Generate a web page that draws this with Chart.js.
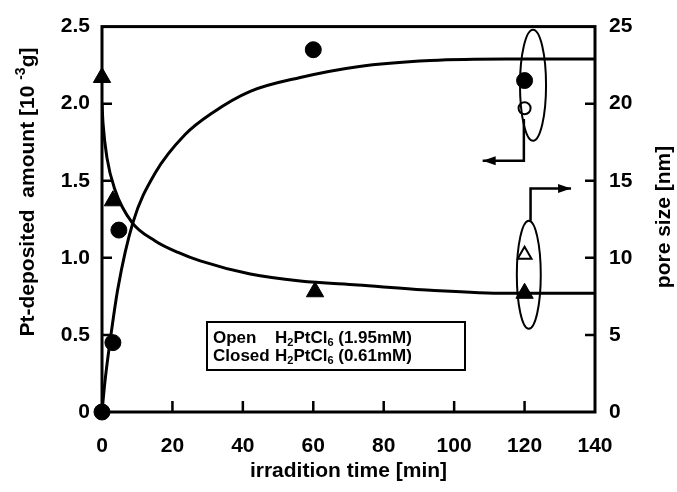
<!DOCTYPE html>
<html>
<head>
<meta charset="utf-8">
<script src="https://cdn.jsdelivr.net/npm/chart.js@4.4.0/dist/chart.umd.min.js"></script>
<style>
  html, body { margin: 0; padding: 0; background: #fff; }
  #wrap { width: 677px; height: 492px; }
</style>
</head>
<body>
<div id="wrap"><canvas id="mainchart"></canvas></div>
<script>
const closed_pt_time = [0, 3.1, 4.8, 60, 120];
const closed_pt_amount = [0, 0.45, 1.18, 2.35, 2.15];
const open_pt_time = [120];
const open_pt_amount = [1.97];

const closed_pore_time = [0, 3.1, 60.5, 120];
const closed_pore_size = [21.7, 13.7, 7.8, 7.7];
const open_pore_time = [120];
const open_pore_size = [10.2];

// fitted curves
const amount_fit_time = [0, 0.85, 2.3, 4.5, 8.8, 15.1, 23.6, 31.3, 42.1, 56.3, 72.6, 93.3, 115, 140];
const amount_fit_value = [0, 0.2, 0.46, 0.8, 1.23, 1.55, 1.8, 1.94, 2.08, 2.17, 2.24, 2.28, 2.29, 2.29];
const pore_fit_time = [0, 0.3, 1.4, 3.7, 8.5, 15.1, 21.6, 27.9, 42.1, 56.3, 72.6, 93.3, 115, 140];
const pore_fit_value = [20, 18.7, 16.5, 14.4, 12.3, 11.1, 10.35, 9.8, 8.95, 8.5, 8.24, 7.9, 7.7, 7.7];

const x_ticks = [0, 20, 40, 60, 80, 100, 120, 140];
const amount_ticks = [0, 0.5, 1.0, 1.5, 2.0, 2.5];
const pore_ticks = [0, 5, 10, 15, 20, 25];

const FONT = 'Liberation Sans, Arial, sans-serif';

function pts(xs, ys) {
  return xs.map((x, i) => ({ x: x, y: ys[i] }));
}

/* frame, inner ticks, axis titles, legend box and the ellipse/arrow notes */
const decor = {
  id: 'decor',
  afterDraw(chart) {
    const c = chart.ctx;
    const a = chart.chartArea;
    const sx = chart.scales.x, sy = chart.scales.y, sy2 = chart.scales.y2;
    c.save();
    c.strokeStyle = '#000';
    c.fillStyle = '#000';

    // box
    c.lineWidth = 3;
    c.strokeRect(a.left, a.top, a.right - a.left, a.bottom - a.top);

    // ticks pointing in
    c.lineWidth = 2.5;
    c.beginPath();
    x_ticks.slice(1, -1).forEach(v => {
      const px = sx.getPixelForValue(v);
      c.moveTo(px, a.bottom); c.lineTo(px, a.bottom - 11);
    });
    amount_ticks.slice(1, -1).forEach(v => {
      const py = sy.getPixelForValue(v);
      c.moveTo(a.left, py); c.lineTo(a.left + 10, py);
    });
    pore_ticks.slice(1, -1).forEach(v => {
      const py = sy2.getPixelForValue(v);
      c.moveTo(a.right, py); c.lineTo(a.right - 10, py);
    });
    c.stroke();

    // axis titles
    c.textBaseline = 'middle';
    c.textAlign = 'center';
    c.font = 'bold 21px ' + FONT;
    c.fillText('irradition time [min]', (a.left + a.right) / 2, 471);

    c.save();
    c.translate(664, 217);
    c.rotate(-Math.PI / 2);
    c.fillText('pore size [nm]', 0, 0);
    c.restore();

    c.save();
    c.translate(28, 192);
    c.rotate(-Math.PI / 2);
    const big = 'bold 21px ' + FONT, small = 'bold 14px ' + FONT;
    const p1 = 'Pt-deposited  amount [10 ', p2 = '-3', p3 = 'g]';
    c.font = big; const w1 = c.measureText(p1).width, w3 = c.measureText(p3).width;
    c.font = small; const w2 = c.measureText(p2).width;
    let x0 = -(w1 + w2 + w3) / 2;
    c.textAlign = 'left';
    c.font = big; c.fillText(p1, x0, 0);
    c.font = small; c.fillText(p2, x0 + w1, -7);
    c.font = big; c.fillText(p3, x0 + w1 + w2, 0);
    c.restore();

    // legend box
    c.lineWidth = 2;
    c.strokeRect(207, 322, 258, 48);
    c.textAlign = 'left';
    const rows = [['Open', '(1.95mM)', 338], ['Closed', '(0.61mM)', 356]];
    rows.forEach(r => {
      const y = r[2];
      c.font = 'bold 17px ' + FONT;
      c.fillText(r[0], 213, y);
      let x = 275;
      const parts = [['H', 0], ['2', 1], ['PtCl', 0], ['6', 1], [' ' + r[1], 0]];
      parts.forEach(p => {
        c.font = (p[1] ? 'bold 11px ' : 'bold 17px ') + FONT;
        c.fillText(p[0], x, y + (p[1] ? 5 : 0));
        x += c.measureText(p[0]).width;
      });
    });

    // ellipses round the 120 min points
    c.lineWidth = 2;
    c.beginPath();
    c.ellipse(sx.getPixelForValue(122.4), sy.getPixelForValue(2.12),
      Math.abs(sx.getPixelForValue(3.7) - sx.getPixelForValue(0)),
      Math.abs(sy.getPixelForValue(0.36) - sy.getPixelForValue(0)), 0, 0, Math.PI * 2);
    c.stroke();
    c.beginPath();
    c.ellipse(sx.getPixelForValue(121.2), sy2.getPixelForValue(8.9),
      Math.abs(sx.getPixelForValue(3.4) - sx.getPixelForValue(0)),
      Math.abs(sy2.getPixelForValue(3.5) - sy2.getPixelForValue(0)), 0, 0, Math.PI * 2);
    c.stroke();

    // arrows pointing at the axes
    function arrow(scaleY, path) {
      const p = path.map(q => [sx.getPixelForValue(q[0]), scaleY.getPixelForValue(q[1])]);
      c.lineWidth = 2.5;
      c.beginPath();
      c.moveTo(p[0][0], p[0][1]);
      for (let i = 1; i < p.length; i++) c.lineTo(p[i][0], p[i][1]);
      c.stroke();
      const e = p[p.length - 1], s = p[p.length - 2];
      const ang = Math.atan2(e[1] - s[1], e[0] - s[0]);
      c.beginPath();
      c.moveTo(e[0], e[1]);
      c.lineTo(e[0] - 13 * Math.cos(ang) + 4.5 * Math.sin(ang), e[1] - 13 * Math.sin(ang) - 4.5 * Math.cos(ang));
      c.lineTo(e[0] - 13 * Math.cos(ang) - 4.5 * Math.sin(ang), e[1] - 13 * Math.sin(ang) + 4.5 * Math.cos(ang));
      c.closePath();
      c.fill();
    }
    arrow(sy, [[119.8, 1.9], [119.8, 1.63], [108.1, 1.63]]);
    arrow(sy2, [[121.7, 12.4], [121.7, 14.5], [133.2, 14.5]]);

    c.restore();
  }
};

const tick_font = { family: FONT, size: 21, weight: 'bold' };

const config = {
  type: 'scatter',
  data: {
    datasets: [
      {
        data: pts(amount_fit_time, amount_fit_value),
        yAxisID: 'y', showLine: true, borderColor: '#000', borderWidth: 3,
        pointRadius: 0, cubicInterpolationMode: 'monotone'
      },
      {
        data: pts(pore_fit_time, pore_fit_value),
        yAxisID: 'y2', showLine: true, borderColor: '#000', borderWidth: 3,
        pointRadius: 0, cubicInterpolationMode: 'monotone'
      },
      {
        data: pts(closed_pt_time, closed_pt_amount),
        yAxisID: 'y', pointStyle: 'circle', pointRadius: 8,
        backgroundColor: '#000', borderColor: '#000', clip: false
      },
      {
        data: pts(open_pt_time, open_pt_amount),
        yAxisID: 'y', pointStyle: 'circle', pointRadius: 6, borderWidth: 2,
        backgroundColor: '#fff', borderColor: '#000', clip: false
      },
      {
        data: pts(closed_pore_time, closed_pore_size),
        yAxisID: 'y2', pointStyle: 'triangle', pointRadius: 10,
        backgroundColor: '#000', borderColor: '#000', clip: false
      },
      {
        data: pts(open_pore_time, open_pore_size),
        yAxisID: 'y2', pointStyle: 'triangle', pointRadius: 8, borderWidth: 2,
        backgroundColor: '#fff', borderColor: '#000', clip: false
      }
    ]
  },
  options: {
    responsive: true,
    maintainAspectRatio: false,
    animation: false,
    layout: { padding: { top: 21, left: 0, right: 0, bottom: 0 } },
    plugins: { legend: false, tooltip: { enabled: false } },
    scales: {
      x: {
        type: 'linear', min: 0, max: 140,
        afterBuildTicks: s => { s.ticks = x_ticks.map(v => ({ value: v })); },
        afterFit: s => { s.height = 80; },
        grid: { display: false, drawTicks: false },
        border: { display: false },
        ticks: { color: '#000', font: tick_font, padding: 22, maxRotation: 0 }
      },
      y: {
        type: 'linear', position: 'left', min: 0, max: 2.5,
        afterBuildTicks: s => { s.ticks = amount_ticks.map(v => ({ value: v })); },
        afterFit: s => { s.width = 102; },
        grid: { display: false, drawTicks: false },
        border: { display: false },
        ticks: {
          color: '#000', font: tick_font, padding: 12,
          callback: v => v === 0 ? '0' : v.toFixed(1)
        }
      },
      y2: {
        type: 'linear', position: 'right', min: 0, max: 25,
        afterBuildTicks: s => { s.ticks = pore_ticks.map(v => ({ value: v })); },
        afterFit: s => { s.width = 82; },
        grid: { display: false, drawTicks: false },
        border: { display: false },
        ticks: { color: '#000', font: tick_font, padding: 14 }
      }
    }
  },
  plugins: [decor]
};

const mainchart = new Chart(document.getElementById('mainchart'), config);
</script>
</body>
</html>
